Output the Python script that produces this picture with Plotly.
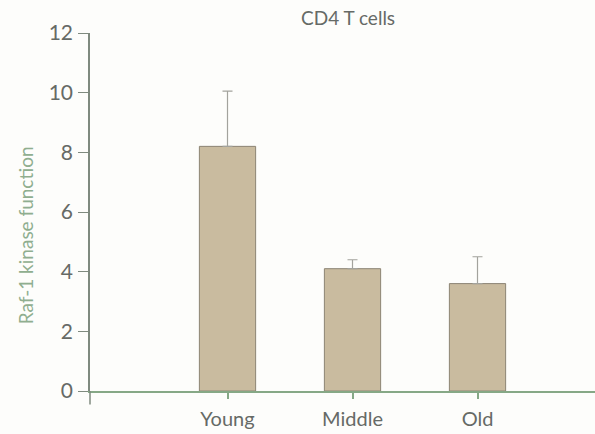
import plotly.graph_objects as go

# Raf-1 kinase function by age group (CD4 T cells)
groups = ["Young", "Middle", "Old"]
means = [8.2, 4.1, 3.6]
errors_up = [1.85, 0.3, 0.9]
y_ticks = [0, 2, 4, 6, 8, 10, 12]

axis_green = "#86a886"
text_gray = "#666a66"
label_green = "#8fae8f"

fig = go.Figure()
fig.add_trace(go.Bar(
    x=[0, 1, 2],
    y=means,
    width=0.45,
    marker=dict(color="#c9bb9f", line=dict(color="#8c8474", width=1)),
    error_y=dict(type="data", array=errors_up, arrayminus=[0, 0, 0],
                 symmetric=False, color="#a3a39d", thickness=1.2, width=5),
    showlegend=False,
))

fig.update_layout(
    width=595, height=434,
    margin=dict(l=90, r=0, t=33, b=43),
    paper_bgcolor="#fdfdfb",
    plot_bgcolor="#fdfdfb",
    font=dict(family="Lato, sans-serif", color=text_gray),
    xaxis=dict(
        range=[-1.1, 2.94],
        tickmode="array", tickvals=[0, 1, 2], ticktext=groups,
        showline=True, linecolor=axis_green, linewidth=1.5,
        ticks="outside", ticklen=6, tickcolor=axis_green, tickwidth=1.5,
        tickfont=dict(size=20, color=text_gray), ticklabelstandoff=3,
        showgrid=False, zeroline=False,
    ),
    yaxis=dict(
        range=[0, 12],
        tickmode="array", tickvals=y_ticks,
        showline=True, linecolor="#7f8a7f", linewidth=1.5,
        ticks="outside", ticklen=10, tickcolor="#7f8a7f", tickwidth=1.2,
        tickfont=dict(size=21, color=text_gray), ticklabelstandoff=1,
        showgrid=False, zeroline=False,
    ),
    annotations=[
        dict(
            text="CD4 T cells", x=0.51, y=1.0, xref="paper", yref="paper",
            yshift=16, showarrow=False, font=dict(size=19, color=text_gray),
            xanchor="center", yanchor="middle",
        ),
        dict(
            text="Raf-1 kinase function", x=0, y=0.435, xref="paper", yref="paper",
            xshift=-65, showarrow=False, textangle=-90,
            font=dict(size=19, color=label_green),
            xanchor="center", yanchor="middle",
        ),
    ],
    shapes=[dict(
        type="line", xref="paper", yref="paper", x0=0, x1=0, y0=0, y1=-0.038,
        line=dict(color="#7f8a7f", width=1.5),
    )],
)

fig.write_html("out.html")
